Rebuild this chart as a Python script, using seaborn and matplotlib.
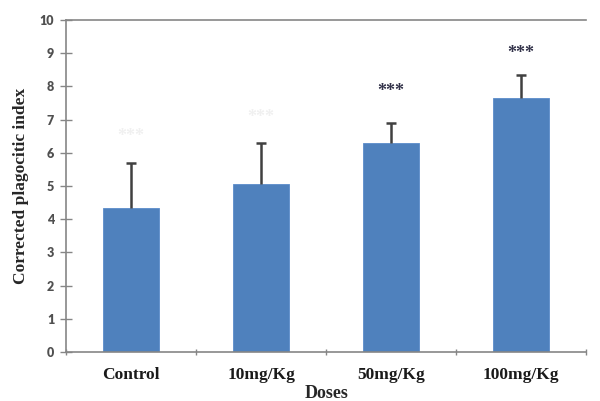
import numpy as np
import pandas as pd
import seaborn as sns
import matplotlib.pyplot as plt
from matplotlib.ticker import FixedLocator

# values
doses = ['Control', '10mg/Kg', '50mg/Kg', '100mg/Kg']
index_mean = [4.34, 5.05, 6.29, 7.66]
index_err = [1.34, 1.24, 0.62, 0.68]
stars = ['***', '***', '***', '***']
star_y = [6.5, 7.05, 7.86, 9.0]
star_col = ['#f0f0f0', '#f0f0f0', '#33334a', '#33334a']

df = pd.DataFrame({'Doses': doses, 'Index': index_mean})

sns.set_style('white')
plt.rcParams['font.family'] = ['Liberation Serif', 'DejaVu Serif']

fig = plt.figure(figsize=(6, 4.01), dpi=100)
ax = fig.add_axes([0.11, 0.122, 0.867, 0.828])

sns.barplot(data=df, x='Doses', y='Index', color='#4F81BD', saturation=1,
            width=0.43, errorbar=None, ax=ax, edgecolor='#5b8ccb', linewidth=0.6)

# only the upper half of each error bar is shown
xpos = np.arange(len(doses))
tops = np.array(index_mean) + np.array(index_err)
ax.vlines(xpos, index_mean, tops, color='#404040', linewidth=1.8)
ax.hlines(tops, xpos - 0.04, xpos + 0.04, color='#404040', linewidth=1.8)

for i, (s, y, c) in enumerate(zip(stars, star_y, star_col)):
    ax.text(i, y, s, ha='center', va='center', fontsize=13, fontweight='bold', color=c)

ax.set_ylim(0, 10)
ax.set_xlim(-0.5, len(doses) - 0.5)
ax.set_yticks(range(0, 11))
ax.set_yticklabels([str(v) for v in range(0, 11)], family='Lato', fontweight='heavy',
                   color='#505050', fontsize=9)
ax.tick_params(axis='y', direction='inout', length=9, width=1, color='#868686', pad=4, left=True)
ax.tick_params(axis='x', which='major', length=0, pad=11)
ax.xaxis.set_minor_locator(FixedLocator(np.arange(-0.5, len(doses), 1.0)))
ax.tick_params(axis='x', which='minor', direction='inout', length=5, width=1,
               color='#868686', bottom=True)
for lab in ax.get_xticklabels():
    lab.set_fontweight('bold')
    lab.set_fontsize(12.5)
    lab.set_color('#1a1a1a')

for side in ['left', 'bottom', 'top']:
    ax.spines[side].set_color('#868686')
    ax.spines[side].set_linewidth(1.2)
ax.spines['right'].set_visible(False)

ax.set_xlabel('Doses', fontsize=13, fontweight='bold', labelpad=1)
ax.set_ylabel('Corrected plagocitic index', fontsize=12.5, fontweight='bold', labelpad=8)

fig.savefig('out.png', dpi=100)
